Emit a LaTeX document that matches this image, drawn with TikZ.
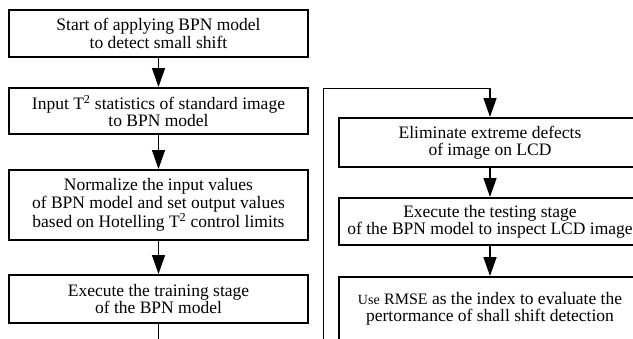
\documentclass[tikz,border=0pt]{standalone}
\usepackage{fontspec}
\setmainfont{Liberation Serif}
\usetikzlibrary{arrows.meta}

\tikzset{
  stepbox/.style={draw,line width=2pt,align=center,inner sep=2pt,
    font=\fontsize{17.5}{17.3}\selectfont},
  leftbox/.style={stepbox,minimum width=299pt},
  rightbox/.style={stepbox,minimum width=302pt},
  flow/.style={line width=1.4pt,-{Triangle[length=19pt,width=13pt]}},
  loopline/.style={line width=1pt}
}

\begin{document}
\begin{tikzpicture}[x=1pt,y=-1pt]
\useasboundingbox (0,0) rectangle (633,338);
\clip (0,0) rectangle (633,338);

% left column
\node [leftbox,minimum height=47pt] (start) at (158.5,33.5)
{Start of applying BPN model\\to detect small shift};
\node [leftbox,minimum height=46pt] (input) at (158.5,111)
{Input T\textsuperscript{2} statistics of standard image\\to BPN model};
\node [leftbox,minimum height=70pt] (norm) at (158.5,205)
{Normalize the input values\\of BPN model and set output values\\based on Hotelling T\textsuperscript{2} control limits};
\node [leftbox,minimum height=48pt] (train) at (158.5,299)
{Execute the training stage\\of the BPN model};

% right column
\node [rightbox,minimum height=49pt] (elim) at (490,142.5)
{Eliminate extreme defects\\of image on LCD};
\node [rightbox,minimum height=47pt] (test) at (490,221.5)
{Execute the testing stage\\of the BPN model to inspect LCD image};
\node [rightbox,minimum height=64pt] (rmse) at (490,309)
{{\fontsize{14}{17.3}\selectfont Use} {\fontsize{16}{17.3}\selectfont RMSE} as the index to evaluate the\\pertormance of shall shift detection};

\coordinate (down) at (158.5,350);
\coordinate (loopbot) at (323,350);
\coordinate (looptop) at (323,88);
\coordinate (loopend) at (490,88);

\draw [flow] (start) -- (input);
\draw [flow] (input) -- (norm);
\draw [flow] (norm) -- (train);
\draw [line width=1.4pt] (train) -- (down);
\draw [loopline] (loopbot) -- (looptop) -- (loopend);
\draw [flow] (loopend) -- (elim);
\draw [flow] (elim) -- (test);
\draw [flow] (test) -- (rmse);
\end{tikzpicture}
\end{document}
